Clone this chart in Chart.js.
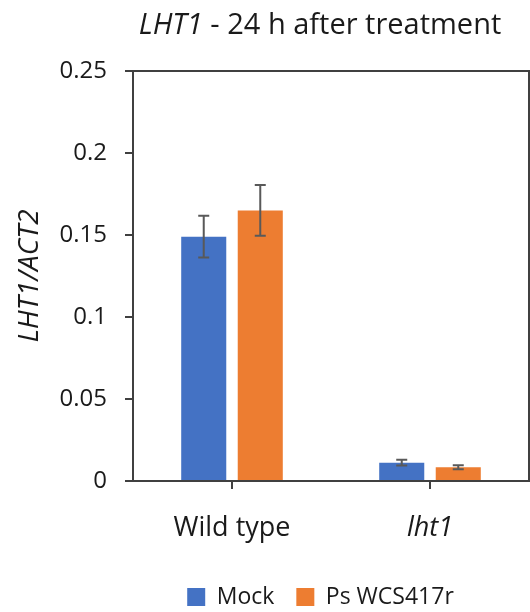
<!DOCTYPE html>
<html>
<head>
<meta charset="utf-8">
<script src="https://cdn.jsdelivr.net/npm/chart.js@4.4.1/dist/chart.umd.min.js"></script>
<style>
  html, body { margin: 0; padding: 0; background: #fff; }
</style>
</head>
<body>
<canvas id="myChart" width="530" height="612"></canvas>
<script>
// Kategóriák és mért értékek (LHT1/ACT2, 24 h)
const genotypes = ['Wild type', 'lht1'];
const seriesNames = ['Mock', 'Ps WCS417r'];
const mockValues = [0.149, 0.0112];
const mockErrors = [0.0127, 0.0017];
const psValues = [0.165, 0.0084];
const psErrors = [0.0155, 0.0012];
const yTickLabels = ['0', '0.05', '0.1', '0.15', '0.2', '0.25'];
const titleParts = [['LHT1', 'italic'], [' - 24 h after treatment', 'normal']];

const FONT = '"Open Sans", sans-serif';
const AXIS = '#404040';

// Cím: dőlt + normál rész egy sorban
const titlePlugin = {
    id: 'mixedTitle',
    afterDraw(chart) {
        const ctx = chart.ctx;
        ctx.save();
        ctx.fillStyle = '#1a1a1a';
        ctx.textBaseline = 'alphabetic';
        let total = 0;
        titleParts.forEach(p => {
            ctx.font = p[1] + ' 29px ' + FONT;
            total += ctx.measureText(p[0]).width;
        });
        let x = 320 - total / 2;
        titleParts.forEach(p => {
            ctx.font = p[1] + ' 29px ' + FONT;
            ctx.fillText(p[0], x, 34);
            x += ctx.measureText(p[0]).width;
        });
        ctx.restore();
    }
};

// Keret felül és jobb oldalon
const framePlugin = {
    id: 'frame',
    beforeDatasetsDraw(chart) {
        const a = chart.chartArea;
        const ctx = chart.ctx;
        ctx.save();
        ctx.strokeStyle = AXIS;
        ctx.lineWidth = 2;
        ctx.beginPath();
        ctx.moveTo(a.left, a.top);
        ctx.lineTo(a.right, a.top);
        ctx.lineTo(a.right, a.bottom);
        ctx.stroke();
        ctx.restore();
    }
};

// Hibasávok
const errorBarPlugin = {
    id: 'errorBars',
    afterDatasetsDraw(chart) {
        const ctx = chart.ctx;
        const y = chart.scales.y;
        ctx.save();
        ctx.strokeStyle = '#595959';
        ctx.lineWidth = 2;
        chart.data.datasets.forEach((ds, di) => {
            const meta = chart.getDatasetMeta(di);
            meta.data.forEach((bar, i) => {
                const v = ds.data[i], e = ds.errors[i];
                const yTop = y.getPixelForValue(v + e);
                const yBot = y.getPixelForValue(v - e);
                ctx.beginPath();
                ctx.moveTo(bar.x, yTop); ctx.lineTo(bar.x, yBot);
                ctx.moveTo(bar.x - 5.5, yTop); ctx.lineTo(bar.x + 5.5, yTop);
                ctx.moveTo(bar.x - 5.5, yBot); ctx.lineTo(bar.x + 5.5, yBot);
                ctx.stroke();
            });
        });
        ctx.restore();
    }
};

// Jelmagyarázat helye (a cím alatt középre)
const legendPlace = {
    id: 'legendPlace',
    afterLayout(chart) {
        const lg = chart.legend;
        const h = lg.height;
        lg.top = 591 - h / 2;
        lg.bottom = lg.top + h;
        lg.left += 56;
        lg.right += 56;
    }
};

const ctx = document.getElementById('myChart').getContext('2d');
const chart = new Chart(ctx, {
    type: 'bar',
    data: {
        labels: genotypes,
        datasets: [{
            label: seriesNames[0],
            data: mockValues,
            errors: mockErrors,
            backgroundColor: '#4472C4',
            categoryPercentage: 0.571,
            barPercentage: 0.797
        }, {
            label: seriesNames[1],
            data: psValues,
            errors: psErrors,
            backgroundColor: '#ED7D31',
            categoryPercentage: 0.571,
            barPercentage: 0.797
        }]
    },
    options: {
        responsive: false,
        animation: false,
        devicePixelRatio: 1,
        layout: { padding: { top: 71, right: 1, left: 0, bottom: 0 } },
        plugins: {
            legend: {
                position: 'bottom',
                labels: {
                    font: { family: FONT, size: 23 },
                    color: '#1a1a1a',
                    boxWidth: 18,
                    boxHeight: 18,
                    padding: 22
                }
            },
            tooltip: { enabled: false }
        },
        scales: {
            x: {
                grid: {
                    display: true,
                    drawOnChartArea: false,
                    offset: false,
                    tickLength: 8,
                    color: AXIS,
                    lineWidth: 2
                },
                border: { display: true, color: AXIS, width: 2 },
                ticks: {
                    color: '#1a1a1a',
                    padding: 23,
                    font: (c) => ({ family: FONT, size: 27, style: c.index === 1 ? 'italic' : 'normal' })
                },
                afterFit(scale) {
                    scale.height = 612 - 481 - scale.chart.legend.height;
                }
            },
            y: {
                min: 0,
                max: 0.25,
                ticks: {
                    stepSize: 0.05,
                    color: '#1a1a1a',
                    padding: 18,
                    font: { family: FONT, size: 24 },
                    callback: (value, index) => yTickLabels[index]
                },
                grid: {
                    drawOnChartArea: false,
                    tickLength: 8,
                    color: AXIS,
                    lineWidth: 2
                },
                border: { display: true, color: AXIS, width: 2 },
                title: {
                    display: true,
                    text: 'LHT1/ACT2',
                    color: '#1a1a1a',
                    font: { family: FONT, size: 28, style: 'italic' },
                    padding: { top: 13, bottom: 0 }
                },
                afterFit(scale) {
                    scale.width = 133;
                }
            }
        }
    },
    plugins: [titlePlugin, framePlugin, errorBarPlugin, legendPlace]
});
</script>
</body>
</html>
